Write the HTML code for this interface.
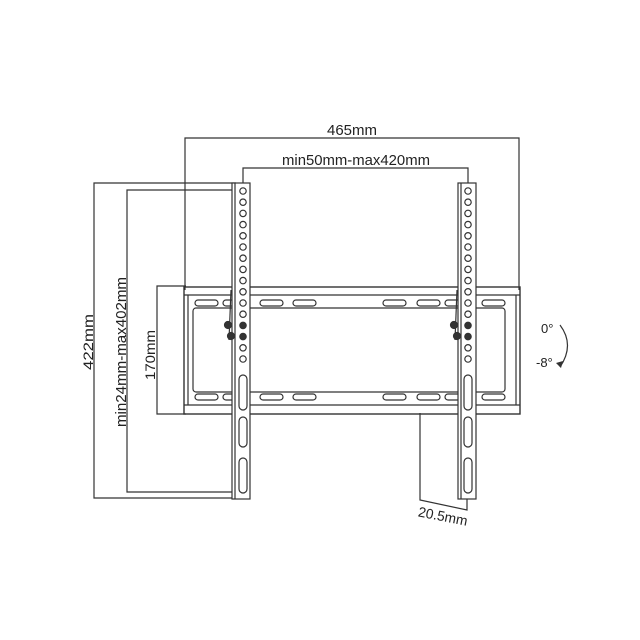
<!DOCTYPE html>
<html><head><meta charset="utf-8"><style>
html,body{margin:0;padding:0;background:#fff;width:640px;height:640px;overflow:hidden}
svg{display:block}
text{font-family:"Liberation Sans",Arial,sans-serif;fill:#222}
</style></head><body>
<svg id="s" width="640" height="640" viewBox="0 0 640 640" xmlns="http://www.w3.org/2000/svg">
<g fill="none" stroke="#333" stroke-width="1.2">
<polyline points="185,290 185,138 519,138 519,290"/>
<polyline points="243,186 243,168 468,168 468,186"/>
<polyline points="236,183 94,183 94,498 236,498"/>
<polyline points="237,190 127,190 127,492 237,492"/>
<polyline points="186,286 157,286 157,414 186,414"/>
<polyline points="420,413 420,500 467,510 467,499"/>
<rect x="184" y="287" width="336" height="127" stroke-width="1.4"/>
<line x1="184" y1="295" x2="520" y2="295"/>
<line x1="184" y1="405" x2="520" y2="405"/>
<line x1="188" y1="295" x2="188" y2="405"/>
<line x1="516" y1="295" x2="516" y2="405"/>
<rect x="193" y="308" width="312" height="84" rx="3"/>
<path d="M560,325 Q575,345 560,367"/>
</g>
<g id="slots" fill="none" stroke="#333" stroke-width="1.2"></g>
<g id="arms" fill="#fff" stroke="#333" stroke-width="1.2"></g>
<path d="M556,363 L561,368 L563,361 Z" fill="#333"/>
<text x="352" y="135" font-size="14.5" text-anchor="middle" textLength="50" lengthAdjust="spacingAndGlyphs">465mm</text>
<text x="356" y="165" font-size="14.5" text-anchor="middle" textLength="148" lengthAdjust="spacingAndGlyphs">min50mm-max420mm</text>
<text x="541" y="333" font-size="13">0°</text>
<text x="536" y="367" font-size="13">-8°</text>
<text transform="translate(93,342) rotate(-90)" font-size="14" text-anchor="middle" textLength="56" lengthAdjust="spacingAndGlyphs">422mm</text>
<text transform="translate(126,352) rotate(-90)" font-size="14.5" text-anchor="middle" textLength="150" lengthAdjust="spacingAndGlyphs">min24mm-max402mm</text>
<text transform="translate(155,355) rotate(-90)" font-size="14" text-anchor="middle" textLength="50" lengthAdjust="spacingAndGlyphs">170mm</text>
<text transform="translate(442,521) rotate(11)" font-size="14" text-anchor="middle" textLength="50" lengthAdjust="spacingAndGlyphs">20.5mm</text>
<script>
var ns="http://www.w3.org/2000/svg";
function el(p,t,a){var e=document.createElementNS(ns,t);for(var k in a)e.setAttribute(k,a[k]);p.appendChild(e);return e;}
var sl=document.getElementById("slots");
[195,223,260,293,383,417,445,482].forEach(function(x){
 [303,397].forEach(function(y){el(sl,"rect",{x:x,y:y-3,width:23,height:6,rx:3});});
});
var ar=document.getElementById("arms");
[[232,243],[458,468]].forEach(function(a){
 var x=a[0],cx=a[1];
 el(ar,"rect",{x:x,y:183,width:18,height:316});
 el(ar,"line",{x1:x+3,y1:183,x2:x+3,y2:499});
 for(var i=0;i<16;i++){
  var y=191+i*11.2;
  el(ar,"circle",{cx:cx,cy:y,r:3.2,fill:(i==12||i==13)?"#333":"#fff"});
 }
 el(ar,"rect",{x:cx-4,y:375,width:8,height:35,rx:4});
 el(ar,"rect",{x:cx-4,y:417,width:8,height:30,rx:4});
 el(ar,"rect",{x:cx-4,y:458,width:8,height:35,rx:4});
 el(ar,"circle",{cx:x-4,cy:325,r:3.5,fill:"#333"});
 el(ar,"circle",{cx:x-1,cy:336,r:3.5,fill:"#333"});
 el(ar,"line",{x1:x-1,y1:290,x2:x-3,y2:340});
});
</script>
</svg>
</body></html>
